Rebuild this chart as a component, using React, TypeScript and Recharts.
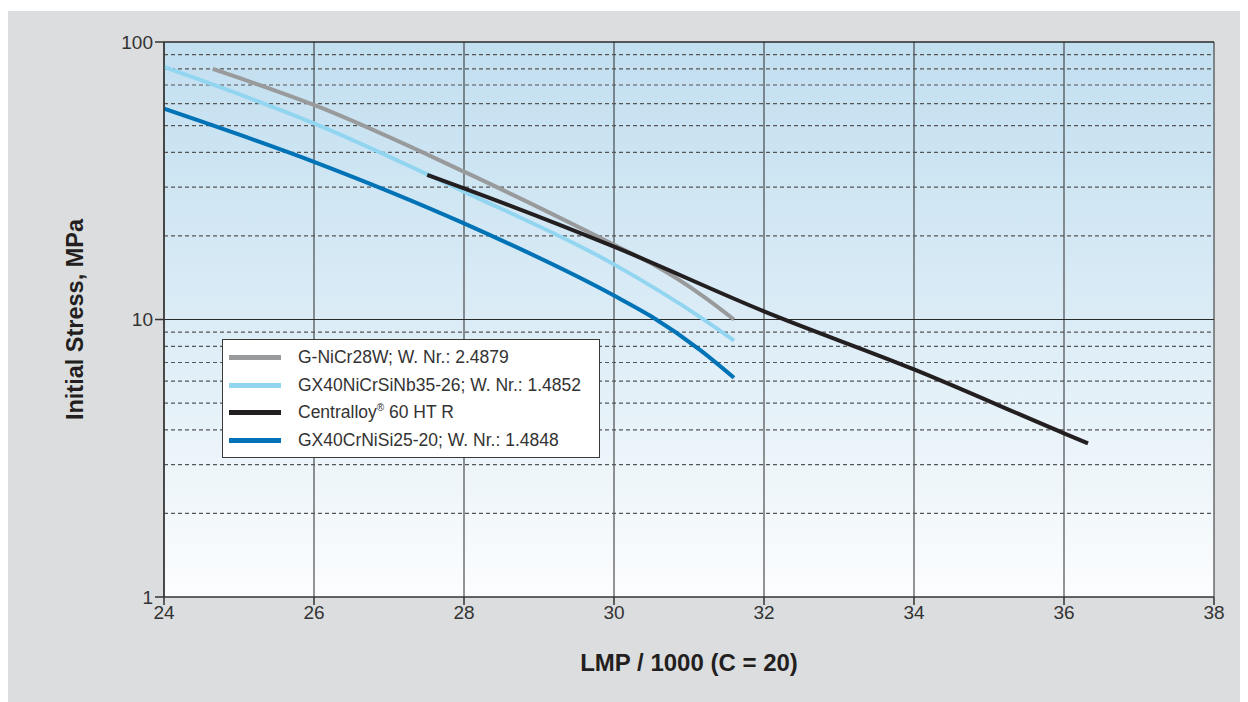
import React from "react";
import { LineChart, Line, XAxis, YAxis, CartesianGrid, ReferenceLine, Label } from "recharts";

const xTicks = [24, 26, 28, 30, 32, 34, 36, 38];
const yTicks = [1, 10, 100];
const minorY = [2, 3, 4, 5, 6, 7, 8, 9, 20, 30, 40, 50, 60, 70, 80, 90];

const seriesNames = [
  "G-NiCr28W; W. Nr.: 2.4879",
  "GX40NiCrSiNb35-26; W. Nr.: 1.4852",
  "Centralloy® 60 HT R",
  "GX40CrNiSi25-20; W. Nr.: 1.4848",
];
const seriesColors = ["#999a9c", "#92d5f0", "#231f20", "#0072b6"];

const grayLmp = [24.65, 26, 28, 30, 30.5, 31.2, 31.6];
const grayStress = [80, 59.3, 34.1, 18.6, 15.9, 12.07, 10];

const lightLmp = [24, 26, 28, 30, 31.15, 31.6];
const lightStress = [81.3, 50.9, 28.9, 15.8, 10.2, 8.4];

const blackLmp = [27.51, 28, 30, 32, 34, 36, 36.32];
const blackStress = [33.2, 29.7, 18.3, 10.7, 6.61, 3.89, 3.58];

const blueLmp = [24, 26, 28, 30, 30.5, 31.15, 31.6];
const blueStress = [57.5, 37.0, 22.2, 12.2, 10.25, 7.76, 6.17];

const toPts = (xs: number[], ys: number[]) => xs.map((x, i) => ({ x, y: ys[i] }));

const grayData = toPts(grayLmp, grayStress);
const lightData = toPts(lightLmp, lightStress);
const blackData = toPts(blackLmp, blackStress);
const blueData = toPts(blueLmp, blueStress);

const FONT = "'Liberation Sans Narrow', 'Arial Narrow', 'Liberation Sans', Arial, sans-serif";

const LegendBox = () => (
  <div
    style={{
      position: "absolute",
      left: 214,
      top: 328,
      width: 378,
      height: 119,
      background: "#ffffff",
      border: "1.5px solid #3a3a3a",
      boxSizing: "border-box",
      padding: "4px 0 0 6px",
      fontFamily: FONT,
      fontSize: 17.5,
      color: "#333",
    }}
  >
    {seriesNames.map((n, i) => (
      <div key={n} style={{ display: "flex", alignItems: "center", height: 27.5 }}>
        <div style={{ width: 52, height: 5, background: seriesColors[i], marginRight: 17 }} />
        <span>
          {i === 2 ? (
            <>
              Centralloy<sup style={{ fontSize: 10 }}>®</sup> 60 HT R
            </>
          ) : (
            n
          )}
        </span>
      </div>
    ))}
  </div>
);

export default function App() {
  return (
    <div style={{ paddingTop: 3 }}>
      <div style={{ width: 1240, height: 691, background: "#dcdddf", position: "relative" }}>
        <LineChart
          width={1240}
          height={691}
          margin={{ top: 31, right: 34, left: 96, bottom: 75 }}
          style={{ fontFamily: FONT }}
        >
          <defs>
            <linearGradient id="bgGrad" x1="0" y1="0" x2="0" y2="1">
              <stop offset="0%" stopColor="#c2dff0" />
              <stop offset="50%" stopColor="#dbecf6" />
              <stop offset="100%" stopColor="#fcfdfe" />
            </linearGradient>
          </defs>
          <CartesianGrid
            fill="url(#bgGrad)"
            fillOpacity={1}
            horizontal={false}
            vertical={true}
            stroke="#2a2a2a"
            strokeWidth={1}
          />
          <XAxis
            type="number"
            dataKey="x"
            domain={[24, 38]}
            ticks={xTicks}
            allowDataOverflow
            height={30}
            tickSize={8}
            tickMargin={1}
            stroke="#333"
            strokeWidth={1.5}
            tick={{ fill: "#333", fontSize: 19, fontFamily: FONT }}
          >
            <Label
              value="LMP / 1000 (C = 20)"
              position="bottom"
              offset={27}
              style={{ fontSize: 24, fontWeight: "bold", fill: "#231f20", fontFamily: FONT }}
            />
          </XAxis>
          <YAxis
            type="number"
            dataKey="y"
            scale="log"
            domain={[1, 100]}
            ticks={yTicks}
            allowDataOverflow
            width={60}
            tickSize={9}
            tickMargin={2}
            stroke="#333"
            strokeWidth={1.5}
            tick={{ fill: "#333", fontSize: 19, fontFamily: FONT }}
          >
            <Label
              value="Initial Stress, MPa"
              position="center"
              angle={-90}
              dx={-59}
              style={{ fontSize: 23.5, fontWeight: "bold", fill: "#231f20", fontFamily: FONT, textAnchor: "middle" }}
            />
          </YAxis>
          {minorY.map((v) => (
            <ReferenceLine key={v} y={v} stroke="#555" strokeDasharray="4 3" strokeWidth={1.2} />
          ))}
          <ReferenceLine y={10} stroke="#2a2a2a" strokeWidth={1.2} />
          <ReferenceLine y={100} stroke="#2a2a2a" strokeWidth={1.5} />
          <Line data={grayData} dataKey="y" type="monotone" stroke={seriesColors[0]} strokeWidth={4} dot={false} isAnimationActive={false} />
          <Line data={lightData} dataKey="y" type="monotone" stroke={seriesColors[1]} strokeWidth={4} dot={false} isAnimationActive={false} />
          <Line data={blueData} dataKey="y" type="monotone" stroke={seriesColors[3]} strokeWidth={4} dot={false} isAnimationActive={false} />
          <Line data={blackData} dataKey="y" type="monotone" stroke={seriesColors[2]} strokeWidth={4} dot={false} isAnimationActive={false} />
        </LineChart>
        <LegendBox />
      </div>
    </div>
  );
}
